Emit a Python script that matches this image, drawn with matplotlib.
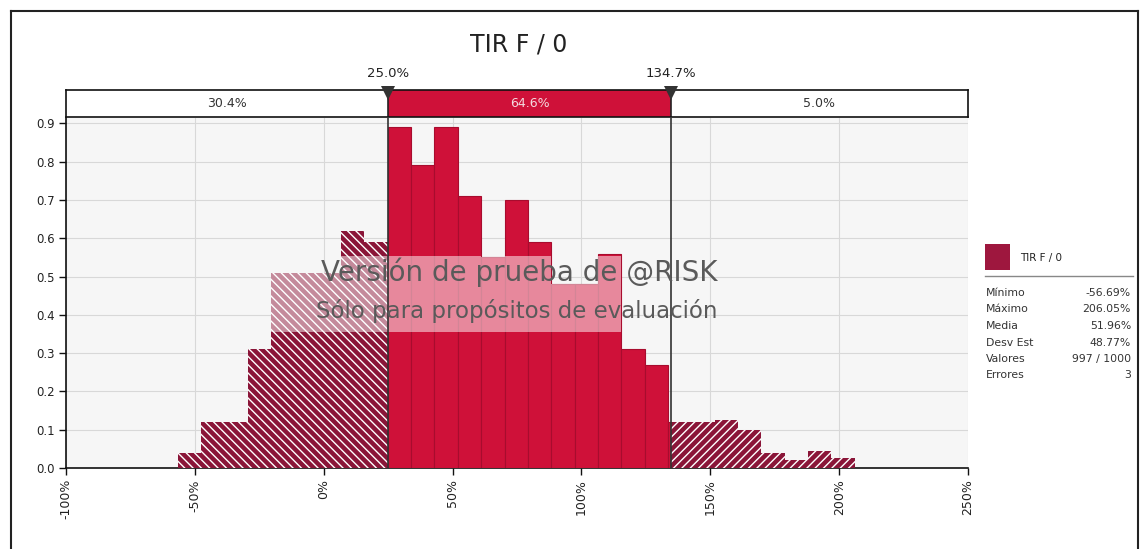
import matplotlib
matplotlib.use("Agg")
import matplotlib.pyplot as plt
from matplotlib.patches import Rectangle
from matplotlib.lines import Line2D
import numpy as np

plt.rcParams['font.family'] = ['DejaVu Sans']
plt.rcParams['hatch.linewidth'] = 1.0

# ---- data ----
title = "TIR F / 0"
bin_min = -56.69
bin_max = 206.05
heights = [0.04, 0.12, 0.12, 0.31, 0.51, 0.51, 0.51, 0.62, 0.59, 0.89,
           0.79, 0.89, 0.71, 0.55, 0.70, 0.59, 0.48, 0.48, 0.56, 0.31,
           0.27, 0.12, 0.12, 0.125, 0.10, 0.04, 0.02, 0.045, 0.025]
left_cut = 25.0
right_cut = 134.7
band_pcts = ["30.4%", "64.6%", "5.0%"]
xticks = [-100, -50, 0, 50, 100, 150, 200, 250]
yticks = [0.0, 0.1, 0.2, 0.3, 0.4, 0.5, 0.6, 0.7, 0.8, 0.9]
stat_names = ["Mínimo", "Máximo", "Media", "Desv Est", "Valores", "Errores"]
stat_vals = ["-56.69%", "206.05%", "51.96%", "48.77%", "997 / 1000", "3"]
wm1 = "Versión de prueba de @RISK"
wm2 = "Sólo para propósitos de evaluación"
wm_lo, wm_hi = 0.355, 0.553

# ---- colors ----
RED = '#CF1139'
RED_EDGE = '#A80C2E'
MAROON = '#8A1538'
LEG = '#9E173E'

W, H = 1147, 549
fig = plt.figure(figsize=(W / 100, H / 100), dpi=100)


def fx(px):
    return px / W


def fy(py):
    return 1 - py / H


# main axes
x0, x1 = 66, 968
y_top, y_bot = 118, 468
ax = fig.add_axes([fx(x0), fy(y_bot), fx(x1) - fx(x0), fy(y_top) - fy(y_bot)])
ax.set_facecolor('#F6F6F6')
ax.set_xlim(xticks[0], xticks[-1])
ax.set_ylim(0, 0.914)

edges = np.linspace(bin_min, bin_max, len(heights) + 1)
for i, h in enumerate(heights):
    lo, hi = edges[i], edges[i + 1]
    segs = [(lo, min(hi, left_cut), 'L'),
            (max(lo, left_cut), min(hi, right_cut), 'M'),
            (max(lo, right_cut), hi, 'R')]
    for a, b, kind in segs:
        if b <= a:
            continue
        if kind == 'M':
            ax.bar(a, h, width=b - a, align='edge', color=RED,
                   edgecolor=RED_EDGE, linewidth=0.8, zorder=3)
        else:
            ax.bar(a, h, width=b - a, align='edge', color=MAROON,
                   edgecolor='white', linewidth=0,
                   hatch='\\\\\\\\' if kind == 'L' else '////', zorder=3)
        # watermark lightening over the bar
        top = min(h, wm_hi)
        if top > wm_lo:
            ax.bar(a, top - wm_lo, width=b - a, bottom=wm_lo, align='edge',
                   color='white', alpha=0.5, linewidth=0, zorder=4)

# grid
ax.set_yticks(yticks)
ax.set_yticklabels([f"{v:.1f}" for v in yticks], fontsize=8.5, color='#222222')
ax.set_xticks(xticks)
ax.set_xticklabels([f"{v}%" for v in xticks], rotation=90, fontsize=9, color='#222222')
ax.grid(True, color='#D8D8D8', linewidth=0.8, zorder=0)
ax.set_axisbelow(True)
for s in ['top', 'right']:
    ax.spines[s].set_visible(False)
for s in ['left', 'bottom']:
    ax.spines[s].set_color('#111111')
    ax.spines[s].set_linewidth(1.2)
ax.tick_params(axis='both', length=5, width=1, color='#111111', pad=3)

# cut lines
for c in (left_cut, right_cut):
    ax.axvline(c, color='#333333', linewidth=1.2, zorder=5)

# watermark text
xm = (xticks[0] + xticks[-1]) / 2 + 1
ax.text(xm, 0.512, wm1, ha='center', va='center', fontsize=20, color='#5A5A5A', zorder=7)
ax.text(xm - 1, 0.41, wm2, ha='center', va='center', fontsize=16.5, color='#5A5A5A', zorder=7)

# top band axes
bax = fig.add_axes([fx(x0), fy(117), fx(x1) - fx(x0), fy(90) - fy(117)])
bax.set_xlim(xticks[0], xticks[-1])
bax.set_ylim(0, 1)
bax.set_xticks([])
bax.set_yticks([])
for s in bax.spines.values():
    s.set_color('#111111')
    s.set_linewidth(1.2)
bax.add_patch(Rectangle((left_cut, 0), right_cut - left_cut, 1, facecolor=RED,
                        edgecolor='none', zorder=1))
for c in (left_cut, right_cut):
    bax.axvline(c, color='#222222', linewidth=1.2, zorder=2)
bax.text((xticks[0] + left_cut) / 2, 0.5, band_pcts[0], ha='center', va='center',
         fontsize=9, color='#333333')
bax.text((left_cut + right_cut) / 2, 0.5, band_pcts[1], ha='center', va='center',
         fontsize=9, color='#F4DADF')
bax.text((right_cut + xticks[-1]) / 2, 0.5, band_pcts[2], ha='center', va='center',
         fontsize=9, color='#333333')
for c in (left_cut, right_cut):
    bax.plot([c], [0.88], marker='v', markersize=10, color='#333333',
             clip_on=False, zorder=5, markeredgewidth=0)
    bax.annotate(f"{c:.1f}%", xy=(c, 1.0), xytext=(0, 12), textcoords='offset points',
                 ha='center', va='center', fontsize=9.5, color='#222222',
                 annotation_clip=False)

# title
fig.text(fx(519), fy(45), title, ha='center', va='center', fontsize=17, color='#222222')

# outer border
fig.add_artist(Line2D([fx(11), fx(11)], [fy(560), fy(11)], color='#222222', linewidth=1.5))
fig.add_artist(Line2D([fx(11), fx(1138)], [fy(11), fy(11)], color='#222222', linewidth=1.5))
fig.add_artist(Line2D([fx(1138), fx(1138)], [fy(11), fy(560)], color='#222222', linewidth=1.5))

# legend
fig.add_artist(Rectangle((fx(985), fy(270)), fx(1010) - fx(985), fy(244) - fy(270),
                         facecolor=LEG, edgecolor='none', transform=fig.transFigure))
fig.text(fx(1020), fy(258), title, ha='left', va='center', fontsize=7.5, color='#222222')
fig.add_artist(Line2D([fx(985), fx(1133)], [fy(276), fy(276)], color='#888888', linewidth=1))
for k, (n, v) in enumerate(zip(stat_names, stat_vals)):
    yy = 293 + k * 16.5
    fig.text(fx(986), fy(yy), n, ha='left', va='center', fontsize=7.8, color='#333333')
    fig.text(fx(1131), fy(yy), v, ha='right', va='center', fontsize=7.8, color='#333333')

fig.savefig('out.png', dpi=100, facecolor='white')
